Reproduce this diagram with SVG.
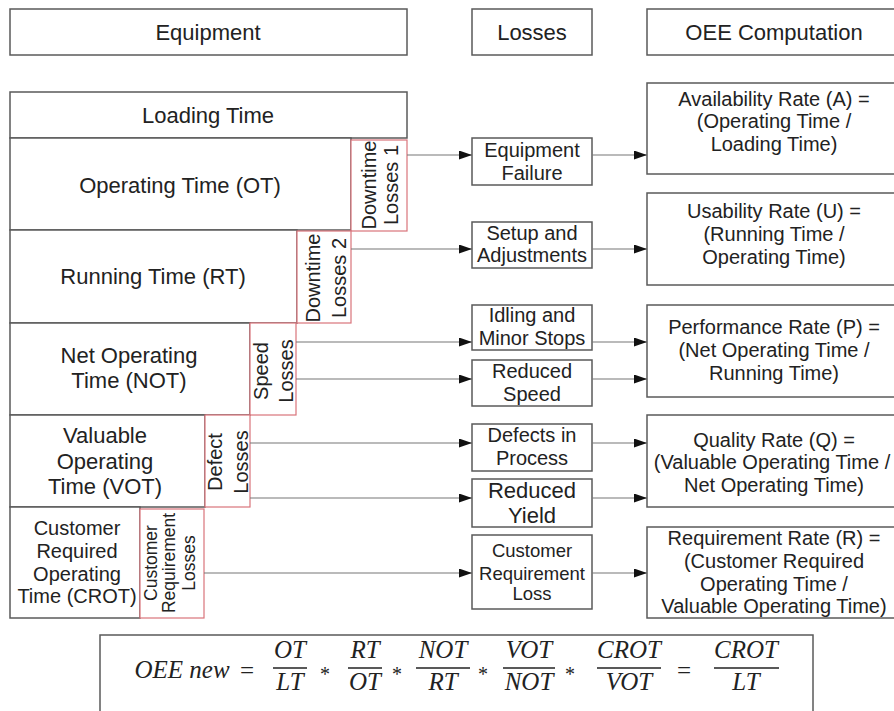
<svg xmlns="http://www.w3.org/2000/svg" width="894" height="711" viewBox="0 0 894 711">
<style>
.box{fill:#fff;stroke:#5a5a5a;stroke-width:1.5}
.red{fill:#fff;stroke:#d9737b;stroke-width:1.2}
.t{font-family:"Liberation Sans",Arial,sans-serif;fill:#222;text-anchor:middle}
.h{font-size:22px}
.e{font-size:22px}
.l{font-size:20px}
.o{font-size:20px}
.v{font-size:20px}
.m{font-family:"Liberation Serif","Times New Roman",serif;font-style:italic;font-size:25px;fill:#222;text-anchor:middle}
.op{font-family:"Liberation Serif","Times New Roman",serif;font-size:25px;fill:#222;text-anchor:middle}
.st{font-family:"Liberation Serif","Times New Roman",serif;font-size:20px;fill:#222;text-anchor:middle}
.bar{stroke:#222;stroke-width:1.3}
.c{stroke:#777;stroke-width:1.2;fill:none;marker-end:url(#ah)}
</style>
<defs>
<marker id="ah" markerUnits="userSpaceOnUse" markerWidth="13" markerHeight="9" refX="13" refY="4.5" orient="auto">
<path d="M0,0 L13,4.5 L0,9 z" fill="#111"/>
</marker>
</defs>
<rect width="894" height="711" fill="#fff"/>

<g id="hdr-equipment"><rect class="box" x="10" y="9" width="397" height="46"/><text class="t h" x="208" y="40">Equipment</text></g>
<g id="hdr-losses"><rect class="box" x="472" y="9" width="120" height="46"/><text class="t h" x="532" y="40">Losses</text></g>
<g id="hdr-oee"><rect class="box" x="647" y="9" width="260" height="46"/><text class="t h" x="774" y="40">OEE Computation</text></g>

<g id="loading-time"><rect class="box" x="10" y="92" width="397" height="46"/><text class="t e" x="208" y="123">Loading Time</text></g>
<g id="operating-time"><rect class="box" x="10" y="138" width="341" height="92"/><text class="t e" x="180" y="193">Operating Time (OT)</text></g>
<g id="running-time"><rect class="box" x="10" y="230" width="287" height="93"/><text class="t e" x="153" y="284">Running Time (RT)</text></g>
<g id="net-operating-time"><rect class="box" x="10" y="323" width="240" height="92"/><text class="t e" x="129" y="363">Net Operating</text><text class="t e" x="129" y="388">Time (NOT)</text></g>
<g id="valuable-operating-time"><rect class="box" x="10" y="415" width="195" height="92"/><text class="t e" x="105" y="443">Valuable</text><text class="t e" x="105" y="469">Operating</text><text class="t e" x="105" y="494">Time (VOT)</text></g>
<g id="crot"><rect class="box" x="10" y="507" width="130" height="111"/><text class="t v" x="77" y="535">Customer</text><text class="t v" x="77" y="558">Required</text><text class="t v" x="77" y="581">Operating</text><text class="t v" x="77" y="603">Time (CROT)</text></g>

<g id="downtime-losses-1"><rect class="red" x="351" y="140" width="56" height="91"/><text class="t l" transform="rotate(-90)" x="-185" y="376">Downtime</text><text class="t l" transform="rotate(-90)" x="-185" y="398">Losses 1</text></g>
<g id="downtime-losses-2"><rect class="red" x="297" y="231" width="54" height="92"/><text class="t l" transform="rotate(-90)" x="-278" y="320">Downtime</text><text class="t l" transform="rotate(-90)" x="-278" y="346">Losses 2</text></g>
<g id="speed-losses"><rect class="red" x="250" y="323" width="46" height="92"/><text class="t l" transform="rotate(-90)" x="-371" y="268">Speed</text><text class="t l" transform="rotate(-90)" x="-371" y="293">Losses</text></g>
<g id="defect-losses"><rect class="red" x="205" y="415" width="45" height="92"/><text class="t l" transform="rotate(-90)" x="-462" y="222">Defect</text><text class="t l" transform="rotate(-90)" x="-462" y="248">Losses</text></g>
<g id="customer-requirement-losses"><rect class="red" x="140" y="509" width="64" height="109"/><text class="t" style="font-size:17.5px" transform="rotate(-90)" x="-563" y="157">Customer</text><text class="t" style="font-size:17.5px" transform="rotate(-90)" x="-563" y="175">Requirement</text><text class="t" style="font-size:17.5px" transform="rotate(-90)" x="-563" y="195">Losses</text></g>

<g id="equipment-failure"><rect class="box" x="472" y="138" width="120" height="47"/><text class="t l" x="532" y="157">Equipment</text><text class="t l" x="532" y="180">Failure</text></g>
<g id="setup-adjustments"><rect class="box" x="472" y="222" width="120" height="46"/><text class="t l" x="532" y="240">Setup and</text><text class="t l" x="532" y="262">Adjustments</text></g>
<g id="idling-minor-stops"><rect class="box" x="472" y="305" width="120" height="45"/><text class="t l" x="532" y="322">Idling and</text><text class="t l" x="532" y="345">Minor Stops</text></g>
<g id="reduced-speed"><rect class="box" x="472" y="360" width="120" height="46"/><text class="t l" x="532" y="378">Reduced</text><text class="t l" x="532" y="401">Speed</text></g>
<g id="defects-in-process"><rect class="box" x="472" y="424" width="120" height="47"/><text class="t l" x="532" y="442">Defects in</text><text class="t l" x="532" y="465">Process</text></g>
<g id="reduced-yield"><rect class="box" x="472" y="479" width="120" height="48"/><text class="t" style="font-size:22px" x="532" y="498">Reduced</text><text class="t" style="font-size:22px" x="532" y="523">Yield</text></g>
<g id="customer-requirement-loss"><rect class="box" x="472" y="535" width="120" height="74"/><text class="t" style="font-size:18.5px" x="532" y="557">Customer</text><text class="t" style="font-size:18.5px" x="532" y="580">Requirement</text><text class="t" style="font-size:18.5px" x="532" y="600">Loss</text></g>

<g id="availability-rate"><rect class="box" x="647" y="83" width="260" height="91"/><text class="t o" x="774" y="106">Availability Rate (A) =</text><text class="t o" x="774" y="128">(Operating Time /</text><text class="t o" x="774" y="151">Loading Time)</text></g>
<g id="usability-rate"><rect class="box" x="647" y="193" width="260" height="92"/><text class="t o" x="774" y="218">Usability Rate (U) =</text><text class="t o" x="774" y="241">(Running Time /</text><text class="t o" x="774" y="264">Operating Time)</text></g>
<g id="performance-rate"><rect class="box" x="647" y="305" width="260" height="92"/><text class="t o" x="774" y="334">Performance Rate (P) =</text><text class="t o" x="774" y="357">(Net Operating Time /</text><text class="t o" x="774" y="380">Running Time)</text></g>
<g id="quality-rate"><rect class="box" x="647" y="415" width="260" height="92"/><text class="t o" x="774" y="447">Quality Rate (Q) =</text><text class="t o" x="772" y="469">(Valuable Operating Time /</text><text class="t o" x="774" y="492">Net Operating Time)</text></g>
<g id="requirement-rate"><rect class="box" x="647" y="527" width="260" height="91"/><text class="t o" x="774" y="545">Requirement Rate (R) =</text><text class="t o" x="774" y="568">(Customer Required</text><text class="t o" x="774" y="591">Operating Time /</text><text class="t o" x="774" y="613">Valuable Operating Time)</text></g>

<g id="connectors">
<line class="c" x1="407" y1="155" x2="472" y2="155"/>
<line class="c" x1="592" y1="155" x2="647" y2="155"/>
<line class="c" x1="351" y1="249" x2="472" y2="249"/>
<line class="c" x1="592" y1="249" x2="647" y2="249"/>
<line class="c" x1="296" y1="342" x2="472" y2="342"/>
<line class="c" x1="592" y1="342" x2="647" y2="342"/>
<line class="c" x1="296" y1="379" x2="472" y2="379"/>
<line class="c" x1="592" y1="379" x2="647" y2="379"/>
<line class="c" x1="250" y1="443" x2="472" y2="443"/>
<line class="c" x1="592" y1="443" x2="647" y2="443"/>
<line class="c" x1="250" y1="498" x2="472" y2="498"/>
<line class="c" x1="592" y1="498" x2="647" y2="498"/>
<line class="c" x1="204" y1="573" x2="472" y2="573"/>
<line class="c" x1="592" y1="573" x2="647" y2="573"/>
</g>

<g id="formula">
<rect class="box" x="100" y="635" width="713" height="90" stroke="#333"/>
<text class="m" x="182" y="678">OEE new</text>
<text class="op" x="247" y="679">=</text>
<text class="m" x="290" y="658">OT</text><line class="bar" x1="273" y1="668" x2="307" y2="668"/><text class="m" x="290" y="690">LT</text>
<text class="st" x="325" y="681">*</text>
<text class="m" x="365" y="658">RT</text><line class="bar" x1="348" y1="668" x2="382" y2="668"/><text class="m" x="365" y="690">OT</text>
<text class="st" x="397" y="681">*</text>
<text class="m" x="443" y="658">NOT</text><line class="bar" x1="416" y1="668" x2="470" y2="668"/><text class="m" x="443" y="690">RT</text>
<text class="st" x="483" y="681">*</text>
<text class="m" x="529" y="658">VOT</text><line class="bar" x1="503" y1="668" x2="555" y2="668"/><text class="m" x="529" y="690">NOT</text>
<text class="st" x="570" y="681">*</text>
<text class="m" x="629" y="658">CROT</text><line class="bar" x1="597" y1="668" x2="661" y2="668"/><text class="m" x="629" y="690">VOT</text>
<text class="op" x="684" y="679">=</text>
<text class="m" x="746" y="658">CROT</text><line class="bar" x1="714" y1="668" x2="779" y2="668"/><text class="m" x="746" y="690">LT</text>
</g>
</svg>
